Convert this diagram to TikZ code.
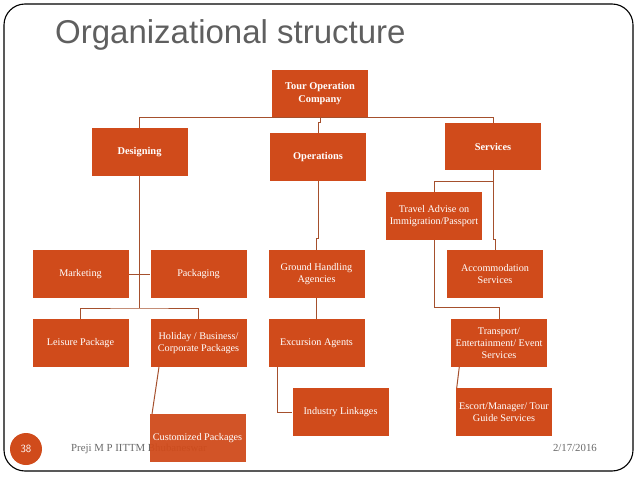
\documentclass[tikz,border=0pt]{standalone}
\usepackage{fontspec}
\setmainfont{Liberation Serif}
\newfontfamily\titlefont{Liberation Sans}
\usetikzlibrary{calc}
\definecolor{boxfill}{RGB}{208,75,27}
\definecolor{linkcol}{RGB}{165,80,45}
\definecolor{titlegray}{RGB}{95,95,95}
\definecolor{footgray}{RGB}{105,105,105}
\pgfdeclarelayer{bg}
\pgfsetlayers{bg,main}
\tikzset{
  orgbox/.style={rectangle, fill=boxfill, text=white, minimum width=96pt, minimum height=47.5pt,
    inner sep=0pt, align=center, font=\fontsize{10.2}{12}\selectfont},
  orghead/.style={orgbox, font=\fontsize{10.4}{12.4}\selectfont\bfseries},
  link/.style={draw=linkcol, line width=1pt},
}
\begin{document}
\begin{tikzpicture}[x=1pt,y=-1pt]
\useasboundingbox (0,0) rectangle (638,479);
% frame
\draw[black, line width=1.1pt, rounded corners=21pt] (4,4) rectangle (633,471);
% title
\node[anchor=base west, inner sep=0pt, text=titlegray, font=\titlefont\fontsize{33}{36}\selectfont] (title) at (55,43.3) {Organizational structure};

% boxes
\node[orghead] (toc) at (320,93.5) {Tour Operation\\Company};
\node[orghead] (des) at (139.5,152) {Designing};
\node[orghead] (ops) at (318,157) {Operations};
\node[orghead] (ser) at (493,146.5) {Services};

\node[orgbox] (mkt) at (80.5,274) {Marketing};
\node[orgbox] (pkg) at (198.5,274) {Packaging};
\node[orgbox] (lei) at (80.5,343) {Leisure Package};
\node[orgbox] (hol) at (198.5,343) {Holiday / Business/\\Corporate Packages};

\node[orgbox] (gha) at (316.5,274) {Ground Handling\\Agencies};
\node[orgbox] (exc) at (316.5,343) {Excursion Agents};
\node[orgbox] (ind) at (340.5,412) {Industry Linkages};

\node[orgbox] (tra) at (434,216) {Travel Advise on\\Immigration/Passport};
\node[orgbox] (acc) at (495,274) {Accommodation\\Services};
\node[orgbox] (trn) at (499,343) {Transport/\\Entertainment/ Event\\Services};
\node[orgbox] (esc) at (504,412) {Escort/Manager/ Tour\\Guide Services};

% footer
\node[circle, fill=boxfill, minimum size=32pt, inner sep=0pt, text=white,
  font=\sffamily\fontsize{11}{13}\selectfont] (pgno) at (26,449) {38};
\begin{pgfonlayer}{bg}
\node[anchor=base west, inner sep=0pt, text=footgray, font=\fontsize{10.8}{13}\selectfont] (author) at (71,451) {Preji M P IITTM Bhubaneswar};
\end{pgfonlayer}
\node[anchor=base east, inner sep=0pt, text=footgray, font=\fontsize{10.8}{13}\selectfont] (date) at (597,451) {2/17/2016};
\node[orgbox, fill opacity=0.95, text opacity=1] (cus) at (197.5,438) {Customized Packages};

% connectors
\begin{pgfonlayer}{bg}
\coordinate (dj) at (139.5,308);
\draw[link] (des.north) |- (toc.south) -| (ser.north);
\draw[link] (toc.south) -- ++(0,5) -| (ops.north);
\draw[link] (des.south) -- (dj);
\draw[link] (lei.north) |- (dj) -| (hol.north);
\draw[link] (mkt.east) -- (pkg.west);
\draw[link] ([xshift=-39.5pt]hol.south) -- ([xshift=-45.5pt]cus.north);
\draw[link] (ops.south) -- ++(0,58) -| (gha.north);
\draw[link] (gha.south) -- (exc.north);
\draw[link] ([xshift=-38.8pt]exc.south) |- (ind.west);
\draw[link] (ser.south) -- ++(0,11.3) -| (tra.north);
\draw[link] (ser.south) -- ++(0,69.3) -| (acc.north);
\draw[link] (tra.south) -- ++(0,67.7) -| (trn.north);
\draw[link] ([xshift=-39.7pt]trn.south) -- ([xshift=-47.3pt]esc.north);
\end{pgfonlayer}
\end{tikzpicture}
\end{document}
